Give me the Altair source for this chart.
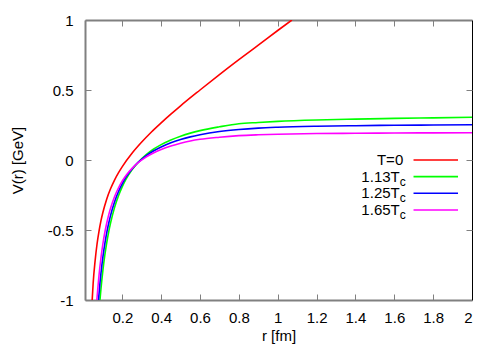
import altair as alt
import pandas as pd

# ---- data ----
series = ["T=0", "1.13Tc", "1.25Tc", "1.65Tc"]
colors = ["#ff0000", "#00ff00", "#0000ff", "#ff00ff"]

r_t0 = [0.045, 0.05, 0.06, 0.07, 0.08, 0.09, 0.10, 0.12, 0.14, 0.16,
        0.18, 0.20, 0.25, 0.30, 0.35, 0.40, 0.45, 0.50, 0.60, 0.70, 0.80,
        0.90, 1.00, 1.073]
v_t0 = [-1.0, -0.88, -0.72, -0.60, -0.51, -0.435, -0.375, -0.278, -0.204, -0.143,
        -0.092, -0.047, 0.048, 0.128, 0.20, 0.265, 0.327, 0.387, 0.50, 0.61, 0.717,
        0.82, 0.925, 1.0]

r_113 = [0.085, 0.09, 0.10, 0.11, 0.12, 0.13, 0.14, 0.16, 0.18, 0.20,
         0.22, 0.25, 0.28, 0.32, 0.36, 0.40, 0.45, 0.50, 0.55, 0.60,
         0.70, 0.80, 0.90, 1.0, 1.2, 1.4, 1.6, 1.8, 2.0]
v_113 = [-1.0, -0.923, -0.79, -0.68, -0.59, -0.513, -0.447, -0.34, -0.257, -0.19,
         -0.135, -0.07, -0.019, 0.035, 0.077, 0.11, 0.143, 0.17, 0.192, 0.21,
         0.237, 0.259, 0.268, 0.276, 0.286, 0.292, 0.297, 0.301, 0.305]

r_125 = [0.0774, 0.085, 0.09, 0.10, 0.11, 0.12, 0.13, 0.14, 0.16, 0.18,
         0.20, 0.22, 0.25, 0.28, 0.32, 0.36, 0.40, 0.45, 0.50, 0.55,
         0.60, 0.70, 0.80, 0.90, 1.0, 1.2, 1.4, 1.6, 1.8, 2.0]
v_125 = [-1.0, -0.879, -0.811, -0.694, -0.599, -0.519, -0.452, -0.394, -0.30, -0.227,
         -0.169, -0.121, -0.064, -0.019, 0.028, 0.064, 0.093, 0.123, 0.146, 0.165,
         0.18, 0.203, 0.218, 0.228, 0.234, 0.241, 0.245, 0.248, 0.25, 0.252]

r_165 = [0.069, 0.075, 0.08, 0.09, 0.10, 0.11, 0.12, 0.13, 0.14, 0.16,
         0.18, 0.20, 0.22, 0.25, 0.28, 0.32, 0.36, 0.40, 0.45, 0.50,
         0.55, 0.60, 0.70, 0.80, 0.90, 1.0, 1.2, 1.4, 1.6, 1.8, 2.0]
v_165 = [-1.0, -0.90, -0.825, -0.70, -0.60, -0.518, -0.45, -0.392, -0.343, -0.263,
         -0.20, -0.15, -0.109, -0.06, -0.021, 0.019, 0.05, 0.075, 0.10, 0.12,
         0.136, 0.148, 0.163, 0.174, 0.180, 0.184, 0.189, 0.191, 0.193, 0.194, 0.195]

x_ticks = [0.2, 0.4, 0.6, 0.8, 1, 1.2, 1.4, 1.6, 1.8, 2]
y_ticks = [-1, -0.5, 0, 0.5, 1]

# legend (placed in data coordinates)
legend_main = ["T=0", "1.13T", "1.25T", "1.65T"]
legend_sub = ["", "c", "c", "c"]
legend_v = [0.0, -0.119, -0.238, -0.357]
legend_text_r = [1.646, 1.628, 1.628, 1.628]
legend_line_r = [1.699, 1.928]

# ---- tables ----
rows = []
for name, rr, vv in zip(series, [r_t0, r_113, r_125, r_165], [v_t0, v_113, v_125, v_165]):
    for a, b in zip(rr, vv):
        rows.append({"series": name, "r": a, "v": b})
df = pd.DataFrame(rows)

leg = pd.DataFrame({
    "series": series,
    "main": legend_main,
    "sub": legend_sub,
    "v": legend_v,
    "tr": legend_text_r,
    "x1": [legend_line_r[0]] * 4,
    "x2": [legend_line_r[1]] * 4,
})

FONT = "Liberation Sans"
GRAY = "#808080"
xs = alt.Scale(domain=[0.008, 2], nice=False, zero=False)
ys = alt.Scale(domain=[-1, 1], nice=False, zero=False)
cs = alt.Scale(domain=series, range=colors)

lines = alt.Chart(df).mark_line(clip=True, strokeWidth=1.6, interpolate="monotone").encode(
    x=alt.X("r:Q", scale=xs, axis=alt.Axis(
        orient="bottom", values=x_ticks, labelExpr="'' + datum.value",
        offset=-6, tickSize=6, tickColor=GRAY, domain=False, grid=False,
        labelPadding=10, title="r [fm]", titleBaseline="alphabetic", titleY=46)),
    y=alt.Y("v:Q", scale=ys, axis=alt.Axis(
        orient="left", values=y_ticks, labelExpr="'' + datum.value",
        offset=-6, tickSize=6, tickColor=GRAY, domain=False, grid=False,
        labelPadding=12, title="V(r) [GeV]", titleBaseline="alphabetic", titleX=-69)),
    color=alt.Color("series:N", scale=cs, legend=None),
)

mirror = alt.Chart(df).mark_line(strokeOpacity=0).encode(
    x=alt.X("r:Q", scale=xs, axis=alt.Axis(
        orient="top", values=x_ticks, labels=False, offset=-6, tickSize=6,
        tickColor=GRAY, domain=False, grid=False, title=None)),
    y=alt.Y("v:Q", scale=ys, axis=alt.Axis(
        orient="right", values=y_ticks, labels=False, offset=-6, tickSize=6,
        tickColor=GRAY, domain=False, grid=False, title=None)),
    detail="series:N",
)

frame1 = alt.Chart(df).mark_line(strokeOpacity=0).encode(
    x=alt.X("r:Q", scale=xs, axis=alt.Axis(
        orient="bottom", values=x_ticks, labels=False, ticks=False, grid=False,
        domain=True, domainColor=GRAY, domainWidth=2, title=None)),
    y=alt.Y("v:Q", scale=ys, axis=alt.Axis(
        orient="left", values=y_ticks, labels=False, ticks=False, grid=False,
        domain=True, domainColor=GRAY, domainWidth=2, title=None)),
    detail="series:N",
)

frame2 = alt.Chart(df).mark_line(strokeOpacity=0).encode(
    x=alt.X("r:Q", scale=xs, axis=alt.Axis(
        orient="top", values=x_ticks, labels=False, ticks=False, grid=False,
        domain=True, domainColor=GRAY, domainWidth=2, title=None)),
    y=alt.Y("v:Q", scale=ys, axis=alt.Axis(
        orient="right", values=y_ticks, labels=False, ticks=False, grid=False,
        domain=True, domainColor="#000000", domainWidth=1, title=None)),
    detail="series:N",
)

leg_lines = alt.Chart(leg).mark_rule(strokeWidth=1.6).encode(
    x=alt.X("x1:Q", scale=xs, axis=None),
    x2="x2:Q",
    y=alt.Y("v:Q", scale=ys, axis=None),
    color=alt.Color("series:N", scale=cs, legend=None),
)

leg_text = alt.Chart(leg).mark_text(
    align="right", baseline="middle", font=FONT, fontSize=15, color="black"
).encode(
    x=alt.X("tr:Q", scale=xs, axis=None),
    y=alt.Y("v:Q", scale=ys, axis=None),
    text="main:N",
)

leg_sub = alt.Chart(leg).mark_text(
    align="left", baseline="middle", font=FONT, fontSize=12, dy=5, color="black"
).encode(
    x=alt.X("tr:Q", scale=xs, axis=None),
    y=alt.Y("v:Q", scale=ys, axis=None),
    text="sub:N",
)

chart = alt.layer(frame1, frame2, mirror, lines, leg_lines, leg_text, leg_sub).resolve_axis(
    x="independent", y="independent"
).properties(
    width=387, height=280,
    autosize=alt.AutoSizeParams(type="none"),
    padding={"left": 77, "top": 12, "right": 20, "bottom": 48},
).configure_view(stroke=None).configure_axis(
    labelFont=FONT, labelFontSize=15, labelColor="black",
    titleFont=FONT, titleFontSize=15, titleFontWeight="normal", titleColor="black",
)

chart.save("out.html", embed_options={"renderer": "svg", "actions": False})
